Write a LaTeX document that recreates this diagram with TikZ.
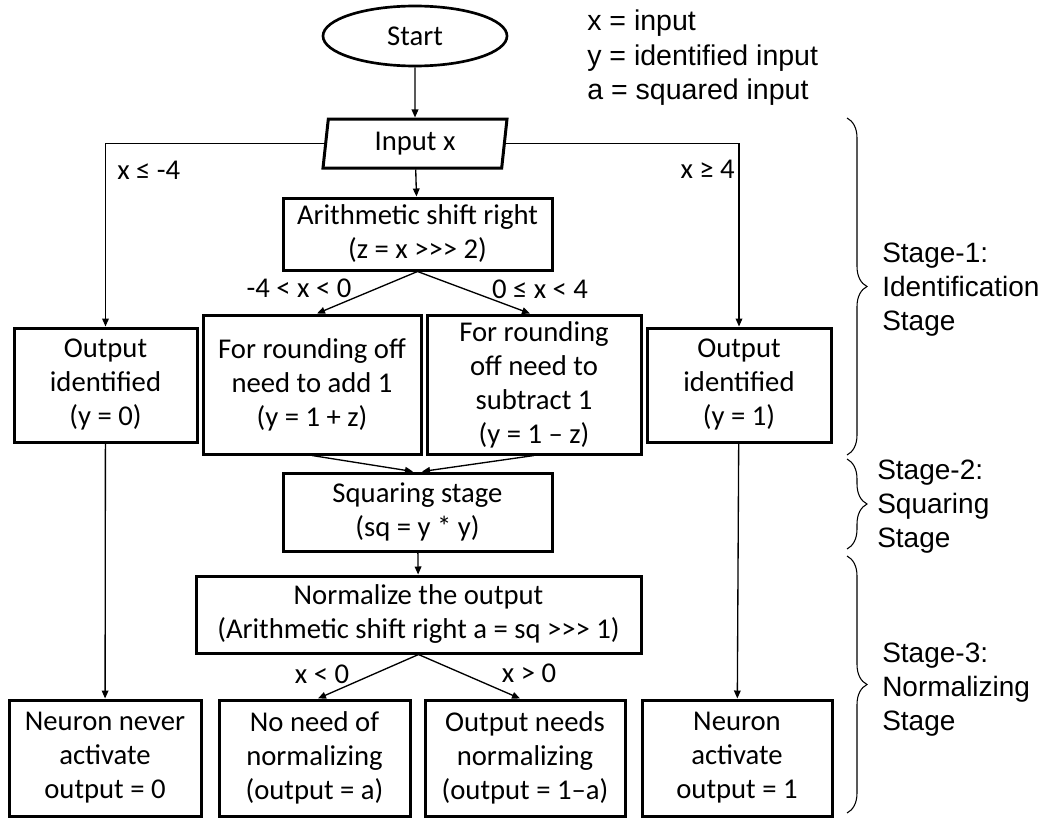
\documentclass[tikz,border=0pt]{standalone}
\usepackage{fontspec}
\setmainfont{Carlito}[Ligatures=TeXOff]
\newfontfamily\arialfont{Liberation Sans}
\usetikzlibrary{arrows.meta,shapes.geometric,decorations.pathreplacing}

\begin{document}
\begin{tikzpicture}[x=0.75pt,y=-0.75pt,
  every node/.style={font=\fontsize{21.5pt}{25.5pt}\selectfont, inner sep=0pt},
  box/.style={draw, line width=2.25pt, rectangle, align=center},
  conn/.style={line width=1pt, -{Triangle[length=6pt,width=5pt]}},
  legendtxt/.style={font=\arialfont\fontsize{21.4pt}{25.5pt}\selectfont, anchor=base west},
  stagelbl/.style={font=\arialfont\fontsize{21pt}{25.5pt}\selectfont, align=left, anchor=west},
  stagebrace/.style={decorate, decoration={brace, amplitude=15pt}, line width=0.8pt}
]
\useasboundingbox (0,0) rectangle (1048,817);

% terminal and input
\node[draw, ellipse, line width=2pt, minimum width=138pt, minimum height=45pt] (start) at (415,36) {Start};
\node[draw, trapezium, trapezium left angle=77, trapezium right angle=103,
      trapezium stretches body, line width=2.25pt,
      minimum width=138pt, minimum height=36.75pt] (inp) at (415,143.5) {Input x};

% stage 1
\node[box, minimum width=201.75pt, minimum height=54pt] (ash) at (417.5,234)
  {Arithmetic shift right\\(z = x >>> 2)};
\node[box, minimum width=137.25pt, minimum height=85.5pt] (outz) at (105.5,385)
  {Output\\identified\\(y = 0)};
\node[box, minimum width=163.5pt, minimum height=104.25pt] (addone) at (312,384.5)
  {For rounding off\\need to add 1\\(y = 1 + z)};
\node[box, minimum width=160.5pt, minimum height=104.25pt] (subone) at (534,384.5)
  {For rounding\\off need to\\subtract 1\\(y = 1 – z)};
\node[box, minimum width=138pt, minimum height=85.5pt] (outo) at (739,385)
  {Output\\identified\\(y = 1)};

% stage 2
\node[box, minimum width=201.75pt, minimum height=58.5pt] (sq) at (417.5,512)
  {Squaring stage\\(sq = y * y)};

% stage 3
\node[box, minimum width=333.75pt, minimum height=57.75pt] (norm) at (418.5,614.5)
  {Normalize the output\\(Arithmetic shift right a = sq >>> 1)};
\node[box, minimum width=144pt, minimum height=87pt] (never) at (105,758)
  {Neuron never\\activate\\output = 0};
\node[box, minimum width=143.25pt, minimum height=87pt] (noneed) at (314.5,758)
  {No need of\\normalizing\\(output = a)};
\node[box, minimum width=150pt, minimum height=87pt] (needs) at (525,758)
  {Output needs\\normalizing\\(output = 1–a)};
\node[box, minimum width=142.5pt, minimum height=87pt] (active) at (737,758)
  {Neuron\\activate\\output = 1};

% connectors
\draw[conn] (start) -- (inp);
\draw[conn] (inp) -- (ash);
\draw[conn] (inp.west) -| (outz.north);
\draw[conn] (inp.east) -| (outo.north);
\draw[conn] (ash.south) -- ([xshift=3.75pt]addone.north);
\draw[conn] (ash.south) -- ([xshift=-3pt]subone.north);
\draw[conn] (addone.south) -- ([xshift=-3.4pt]sq.north);
\draw[conn] (subone.south) -- ([xshift=3.4pt]sq.north);
\draw[conn] (sq) -- (norm);
\draw[conn] (norm.south) -- ([xshift=2.6pt]noneed.north);
\draw[conn] (norm.south) -- ([xshift=-3.75pt]needs.north);
\draw[conn] (outz) -- (never);
\draw[conn] (outo) -- (active);

% branch conditions
\node[anchor=west] (cneg) at (117,170) {x ≤ -4};
\node[anchor=east] (cpos) at (735,169) {x ≥ 4};
\node (cnegs) at (299,288) {-4 < x < 0};
\node (cposs) at (540,289) {0 ≤ x < 4};
\node (clt) at (322,674) {x < 0};
\node (cgt) at (529,673) {x > 0};

% legend
\node[legendtxt] (leg1) at (587,31) {x = input};
\node[legendtxt] (leg2) at (587,65) {y = identified input};
\node[legendtxt] (leg3) at (587,99) {a = squared input};

% stage braces
\coordinate (b1t) at (847,118);
\coordinate (b1b) at (847,455);
\coordinate (b2t) at (847,459);
\coordinate (b2b) at (847,549);
\coordinate (b3t) at (847,556);
\coordinate (b3b) at (847,813);
\draw[stagebrace] (b1t) -- (b1b);
\draw[stagebrace] (b2t) -- (b2b);
\draw[stagebrace] (b3t) -- (b3b);
\node[stagelbl] (st1) at (882,290) {Stage-1:\\Identification\\Stage};
\node[stagelbl] (st2) at (877,507) {Stage-2:\\Squaring\\Stage};
\node[stagelbl] (st3) at (882,690) {Stage-3:\\Normalizing\\Stage};
\end{tikzpicture}
\end{document}
